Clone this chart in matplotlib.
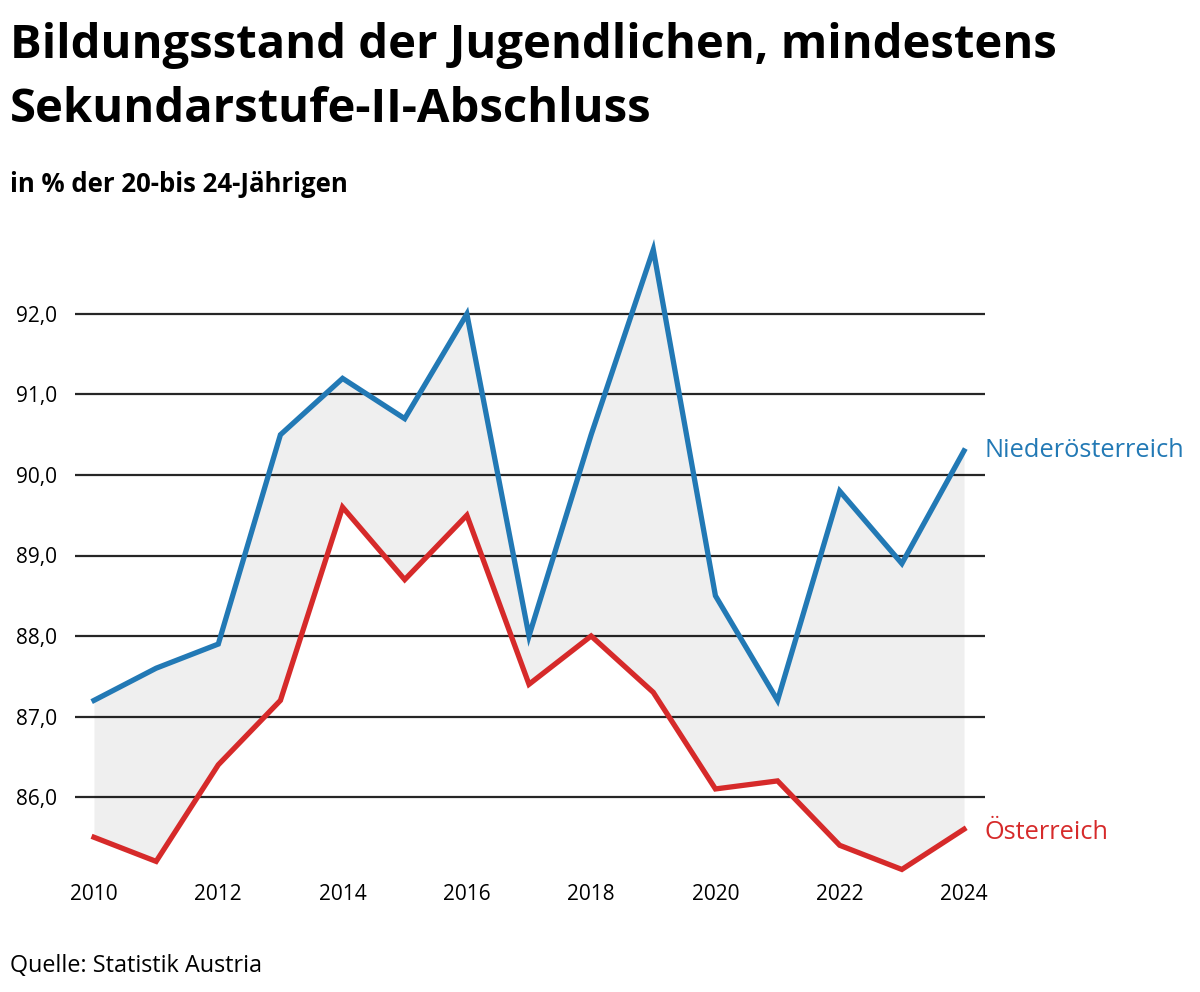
import matplotlib
matplotlib.use("Agg")
import matplotlib.pyplot as plt
from matplotlib.ticker import FuncFormatter

# Daten
jahre = list(range(2010, 2025))
noe = [87.2, 87.6, 87.9, 90.5, 91.2, 90.7, 92.0, 88.0, 90.5, 92.8, 88.5, 87.2, 89.8, 88.9, 90.3]
oesterreich = [85.5, 85.2, 86.4, 87.2, 89.6, 88.7, 89.5, 87.4, 88.0, 87.3, 86.1, 86.2, 85.4, 85.1, 85.6]
y_ticks = [86, 87, 88, 89, 90, 91, 92]
x_ticks = [2010, 2012, 2014, 2016, 2018, 2020, 2022, 2024]

blau = "#2279b5"
rot = "#d62a2a"

plt.rcParams["font.family"] = ["Open Sans", "DejaVu Sans"]

fig = plt.figure(figsize=(12, 9.92), dpi=100)
# Achse in Pixeln: links 75, rechts 985, oben 230, unten 880
ax = fig.add_axes([75 / 1200, 1 - 880 / 992, (985 - 75) / 1200, (880 - 230) / 992])

ax.fill_between(jahre, oesterreich, noe, color="#efefef", lw=0, zorder=1)
for y in y_ticks:
    ax.axhline(y, color="black", lw=1.6, alpha=0.85, zorder=2)
ax.plot(jahre, noe, color=blau, lw=3.8, zorder=3, solid_joinstyle="miter")
ax.plot(jahre, oesterreich, color=rot, lw=3.8, zorder=3, solid_joinstyle="miter")

ax.set_xlim(2010 - 19 / 62.14, 2024 + 21 / 62.14)
ax.set_ylim(92 - (880 - 314) / 80.5, 92 + (314 - 230) / 80.5)
ax.set_yticks(y_ticks)
ax.set_xticks(x_ticks)
ax.yaxis.set_major_formatter(FuncFormatter(lambda v, p: f"{v:.1f}".replace(".", ",")))
ax.tick_params(axis="both", length=0, labelsize=15, colors="black")
ax.tick_params(axis="y", pad=13)
ax.tick_params(axis="x", pad=3)
for s in ax.spines.values():
    s.set_visible(False)

ax.text(2024 + 21 / 62.14, noe[-1], "Niederösterreich", color=blau, fontsize=18.3,
        va="center", ha="left", clip_on=False)
ax.text(2024 + 21 / 62.14, oesterreich[-1] - 0.04, "Österreich", color=rot, fontsize=18.3,
        va="center", ha="left", clip_on=False)

fig.text(10 / 1200, 1 - 58 / 992, "Bildungsstand der Jugendlichen, mindestens",
         fontsize=34, fontweight="bold", va="baseline")
fig.text(10 / 1200, 1 - 122 / 992, "Sekundarstufe-II-Abschluss",
         fontsize=34, fontweight="bold", va="baseline")
fig.text(10 / 1200, 1 - 192 / 992, "in % der 20-bis 24-Jährigen",
         fontsize=18.5, fontweight="bold", va="baseline")
fig.text(10 / 1200, 1 - 972 / 992, "Quelle: Statistik Austria",
         fontsize=16.8, va="baseline")

fig.savefig("out.png", dpi=100)
